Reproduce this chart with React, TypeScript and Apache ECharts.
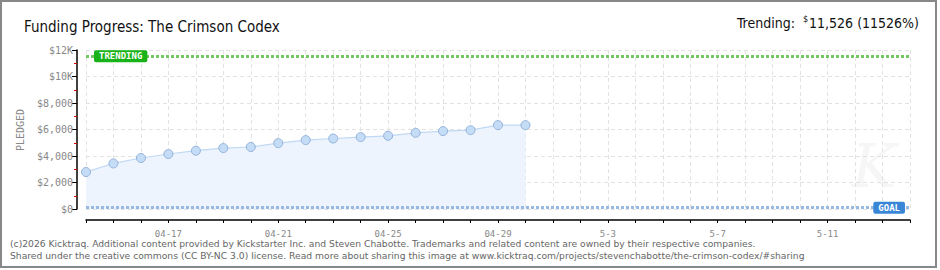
import React, { useEffect, useRef } from "react";
import * as echarts from "echarts";

const categories: string[] = [
  "04-14", "04-15", "04-16", "04-17", "04-18", "04-19", "04-20", "04-21", "04-22",
  "04-23", "04-24", "04-25", "04-26", "04-27", "04-28", "04-29", "04-30",
  "5-1", "5-2", "5-3", "5-4", "5-5", "5-6", "5-7", "5-8", "5-9", "5-10", "5-11", "5-12", "5-13", "5-14",
];

const pledged: (number | null)[] = [
  2790, 3440, 3850, 4150, 4400, 4600, 4680, 4970, 5200,
  5320, 5425, 5525, 5750, 5880, 5950, 6330, 6330,
];

const trendingValue = 11526;
const goalValue = 100;

const titleText = "Funding Progress: The Crimson Codex";
const footer1 =
  "(c)2026 Kicktraq. Additional content provided by Kickstarter Inc. and Steven Chabotte. Trademarks and related content are owned by their respective companies.";
const footer2 =
  "Shared under the creative commons (CC BY-NC 3.0) license. Read more about sharing this image at www.kicktraq.com/projects/stevenchabotte/the-crimson-codex/#sharing";

function fmtY(v: number): string {
  if (v >= 10000) return "$" + v / 1000 + "K";
  return "$" + v.toLocaleString("en-US");
}

export default function App() {
  const ref = useRef<HTMLDivElement>(null);
  useEffect(() => {
    if (!ref.current) return;
    const chart = echarts.init(ref.current, undefined, { renderer: "svg" });
    const seriesData = categories.map((_, i) => (i < pledged.length ? pledged[i] : null));
    chart.setOption({
      animation: false,
      backgroundColor: "#ffffff",
      title: {
        text: titleText,
        left: 19,
        top: 14,
        textStyle: {
          fontFamily: "DejaVu Sans Condensed",
          fontSize: 15,
          fontWeight: "normal",
          color: "#111",
        },
      },
      grid: { left: 86, right: 30, top: 50, bottom: 61, containLabel: false },
      xAxis: {
        type: "category",
        data: categories,
        boundaryGap: false,
        offset: 11,
        axisLine: { onZero: false, lineStyle: { color: "#000", width: 1.5 } },
        axisTick: { show: true, interval: 0, length: 3, lineStyle: { color: "#000" } },
        axisLabel: {
          interval: (i: number) => (i - 3) % 4 === 0,
          margin: 9,
          color: "#888",
          fontFamily: "DejaVu Sans Mono",
          fontSize: 9,
        },
        splitLine: {
          show: true,
          interval: 0,
          lineStyle: { color: "#e2e2e2", type: [4, 3] },
        },
      },
      yAxis: {
        type: "value",
        min: 0,
        max: 12000,
        interval: 2000,
        offset: 9,
        axisLine: { show: true, lineStyle: { color: "#000", width: 1.5 } },
        axisTick: { show: true, length: 5, lineStyle: { color: "#000" } },
        minorTick: { show: true, splitNumber: 2, length: 3, lineStyle: { color: "#e00000" } },
        axisLabel: {
          formatter: (v: number) => fmtY(v),
          color: "#888",
          fontFamily: "DejaVu Sans Mono",
          fontSize: 10,
          margin: 4,
        },
        splitLine: { show: true, lineStyle: { color: "#e2e2e2", type: [4, 3] } },
      },
      series: [
        {
          type: "line",
          data: seriesData,
          connectNulls: false,
          symbol: "circle",
          symbolSize: 9,
          lineStyle: { color: "#c0d8f3", width: 1.2 },
          itemStyle: { color: "#c5dcf6", borderColor: "#93b3da", borderWidth: 1 },
          areaStyle: { color: "#edf4fd", opacity: 1 },
          markLine: {
            silent: true,
            symbol: "none",
            data: [
              {
                yAxis: trendingValue,
                lineStyle: { color: "#74c863", width: 3, type: [3, 2] },
                label: {
                  show: true,
                  position: "insideStart",
                  distance: [8, 0],
                  formatter: "TRENDING",
                  color: "#fff",
                  backgroundColor: "#19b219",
                  borderRadius: 2,
                  padding: [2, 5, 1, 5],
                  fontFamily: "DejaVu Sans Mono",
                  fontSize: 9,
                  fontWeight: "bold",
                },
              },
              {
                yAxis: goalValue,
                lineStyle: { color: "#97b9e4", width: 3, type: [3, 2] },
                label: {
                  show: true,
                  position: "insideEnd",
                  distance: [5, 0],
                  formatter: "GOAL",
                  color: "#fff",
                  backgroundColor: "#3a86d6",
                  borderRadius: 2,
                  padding: [2, 5, 1, 5],
                  fontFamily: "DejaVu Sans Mono",
                  fontSize: 9,
                  fontWeight: "bold",
                },
              },
            ],
          },
        },
      ],
      graphic: [
        {
          type: "rect",
          shape: { x: 1, y: 1, width: 935, height: 266 },
          style: { fill: "none", stroke: "#888", lineWidth: 2 },
          silent: true,
          z: 100,
        },
        {
          type: "text",
          x: 874,
          y: 166,
          style: {
            text: "K",
            font: "italic 60px 'DejaVu Serif'",
            fill: "#f6f6f6",
            textAlign: "center",
            textVerticalAlign: "middle",
          },
          silent: true,
          z: -1,
        },
        {
          type: "text",
          x: 919,
          y: 22,
          style: {
            text: "{a|Trending:  }{s|$}{a|11,526 (11526%)}",
            textAlign: "right",
            textVerticalAlign: "middle",
            rich: {
              a: { fontFamily: "DejaVu Sans Condensed", fontSize: 14, fill: "#111", verticalAlign: "bottom" },
              s: { fontFamily: "DejaVu Sans Condensed", fontSize: 9, fill: "#111", verticalAlign: "top", padding: [0, 1, 6, 0] },
            },
          },
        },
        {
          type: "text",
          x: 20,
          y: 130,
          rotation: Math.PI / 2,
          style: {
            text: "PLEDGED",
            font: "10px 'DejaVu Sans Mono'",
            fill: "#888",
            textAlign: "center",
            textVerticalAlign: "middle",
          },
        },
        {
          type: "text",
          x: 10,
          y: 243,
          style: {
            text: footer1,
            font: "9.2px 'DejaVu Sans'",
            fill: "#666",
            textVerticalAlign: "middle",
          },
        },
        {
          type: "text",
          x: 10,
          y: 255,
          style: {
            text: footer2,
            font: "9.2px 'DejaVu Sans'",
            fill: "#666",
            textVerticalAlign: "middle",
          },
        },
      ],
    });
    return () => chart.dispose();
  }, []);
  return (
    <div
      ref={ref}
      style={{ position: "fixed", left: 0, top: 0, width: 940, height: 270 }}
    />
  );
}
